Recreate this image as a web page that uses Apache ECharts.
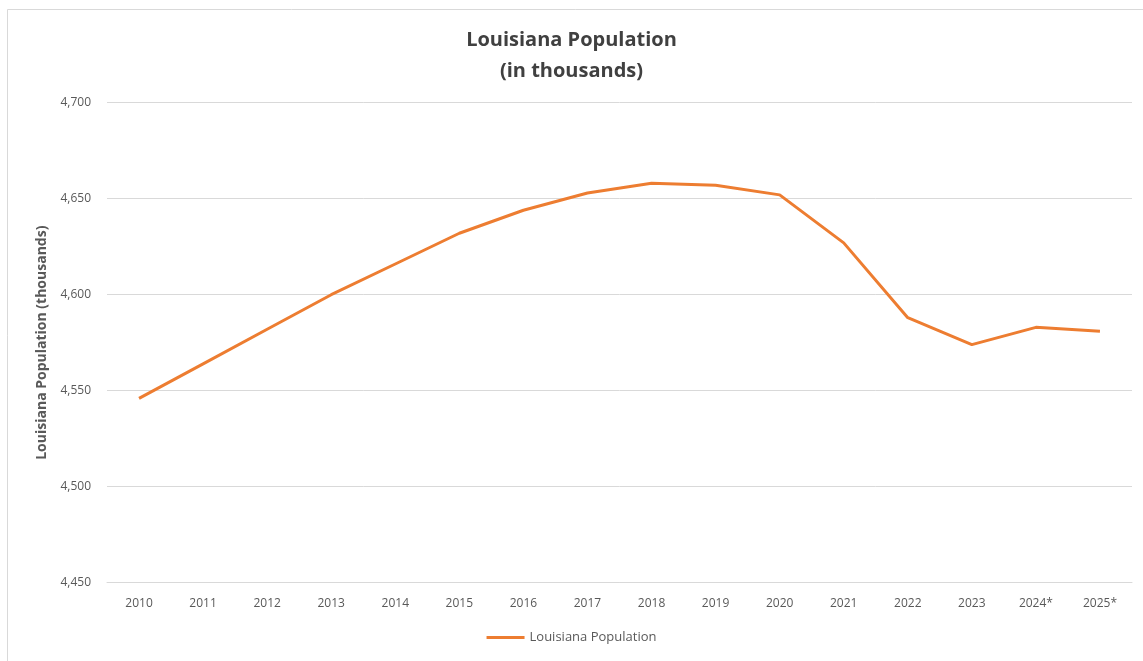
<!DOCTYPE html>
<html>
<head>
<meta charset="utf-8">
<script src="https://cdn.jsdelivr.net/npm/echarts@6/dist/echarts.min.js"></script>
<style>
html,body{margin:0;padding:0;background:#fff;}
#c{width:1143px;height:661px;}
</style>
</head>
<body>
<div id="c"></div>
<script>
const categories = ['2010','2011','2012','2013','2014','2015','2016','2017','2018','2019','2020','2021','2022','2023','2024*','2025*'];
const population = [4546, 4564, 4582, 4600, 4616, 4632, 4644, 4653, 4658, 4657, 4652, 4627, 4588, 4574, 4583, 4581];
const yTicks = [4450, 4500, 4550, 4600, 4650, 4700];

const chart = echarts.init(document.getElementById('c'));
const font = '"Open Sans", "Liberation Sans", sans-serif';
chart.setOption({
  backgroundColor: '#fff',
  animation: false,
  graphic: [{
    type: 'rect', left: 5, top: 7,
    shape: {width: 1150, height: 660},
    style: {fill: 'none', stroke: '#d9d9d9', lineWidth: 1}
  }],
  title: {
    text: 'Louisiana Population\n(in thousands)',
    left: 'center', top: 20,
    textStyle: {fontFamily: font, fontSize: 20, fontWeight: 'bold', color: '#404040', lineHeight: 31}
  },
  legend: {
    bottom: 12, left: 'center',
    icon: 'rect', itemWidth: 38, itemHeight: 3, itemGap: 4,
    textStyle: {fontFamily: font, fontSize: 13, color: '#595959'},
    data: ['Louisiana Population']
  },
  grid: {left: 107, right: 11, top: 102.7, bottom: 78.3, containLabel: false},
  xAxis: {
    type: 'category', data: categories, boundaryGap: true,
    axisLine: {show: true, lineStyle: {color: '#d9d9d9'}},
    axisTick: {show: false},
    axisLabel: {fontFamily: font, fontSize: 12, color: '#595959', margin: 15}
  },
  yAxis: {
    type: 'value', min: yTicks[0], max: yTicks[yTicks.length - 1], interval: 50,
    name: 'Louisiana Population (thousands)',
    nameLocation: 'middle', nameGap: 58, nameRotate: 90,
    nameTextStyle: {fontFamily: font, fontSize: 14, fontWeight: 'bold', color: '#595959'},
    axisLine: {show: false}, axisTick: {show: false},
    splitLine: {lineStyle: {color: '#d9d9d9', width: 1}},
    axisLabel: {fontFamily: font, fontSize: 12, color: '#595959', margin: 16,
      formatter: v => v.toLocaleString('en-US')}
  },
  series: [{
    name: 'Louisiana Population', type: 'line', data: population,
    symbol: 'none', smooth: false,
    lineStyle: {color: '#ED7D31', width: 3},
    itemStyle: {color: '#ED7D31'}
  }]
});
</script>
</body>
</html>
